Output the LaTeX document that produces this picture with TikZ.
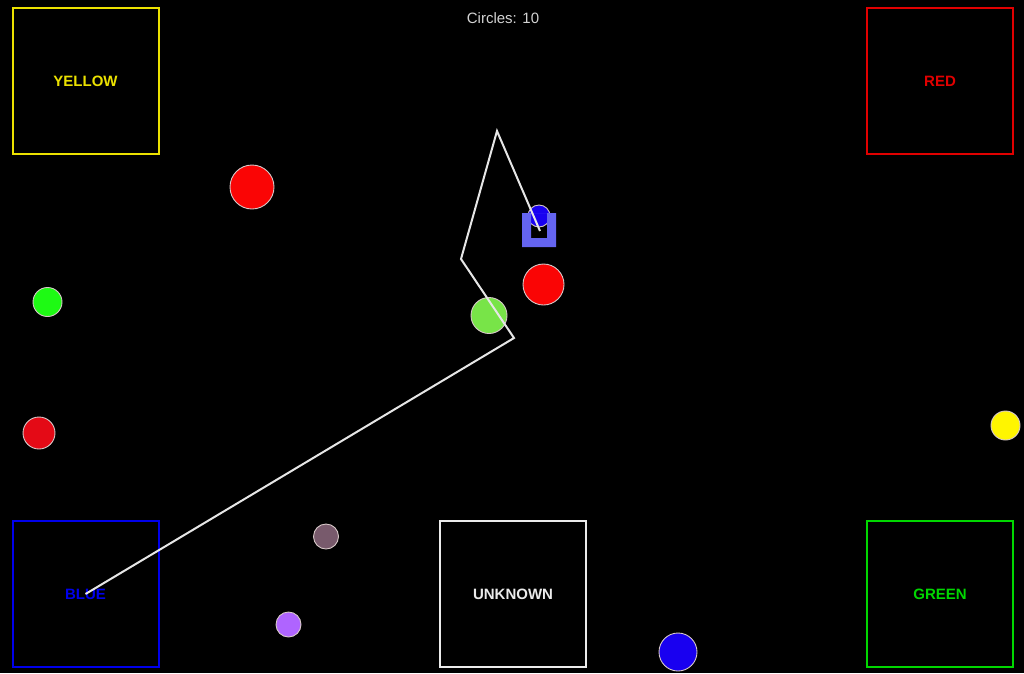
\documentclass[tikz,border=0pt]{standalone}
\usepackage{fontspec}
\setmainfont{Liberation Sans}
\usetikzlibrary{positioning}
\definecolor{zyellow}{RGB}{235,225,0}
\definecolor{zred}{RGB}{225,0,0}
\definecolor{zblue}{RGB}{0,0,235}
\definecolor{zgreen}{RGB}{0,215,0}
\definecolor{zwhite}{RGB}{235,235,235}
\definecolor{ballrim}{RGB}{215,200,200}
\definecolor{trackgrey}{RGB}{230,230,230}
\definecolor{hand}{RGB}{100,100,240}
\tikzset{zone/.style = {draw, line width=2pt, minimum size=146pt, inner sep=0pt,
                        font=\bfseries\fontsize{15}{18}\selectfont},
         ball/.style = {circle, draw=ballrim, line width=0.9pt, inner sep=0pt},
         track/.style = {draw=trackgrey, line width=2pt}}

\begin{document}
\begin{tikzpicture}[x=1pt, y=-1pt]
    \fill [black] (0, 0) rectangle (1024, 673);
    \useasboundingbox (0, 0) rectangle (1024, 673);

    \node [zone, draw=zyellow, text=zyellow] (yellow) at (85.5, 81) {\raisebox{-1.5pt}{YELLOW}};
    \node [zone, draw=zred, text=zred] (red) at (940, 81) {\raisebox{-1.5pt}{RED}};
    \node [zone, draw=zblue, text=zblue] (blue) at (85.5, 594) {\raisebox{-1.5pt}{BLUE}};
    \node [zone, draw=zwhite, text=zwhite] (unknown) at (513, 594) {\raisebox{-1.5pt}{UNKNOWN}};
    \node [zone, draw=zgreen, text=zgreen] (green) at (940, 594) {\raisebox{-1.5pt}{GREEN}};

    \node [text=zwhite!90!black, font=\fontsize{15}{18}\selectfont] (count) at (503, 18) {Circles: 10};

    \node [ball, fill={rgb,255:red,250;green,5;blue,5}, minimum size=44pt] (c1) at (252, 187) {};
    \node [ball, fill={rgb,255:red,30;green,250;blue,20}, minimum size=29pt] (c2) at (47.5, 302) {};
    \node [ball, fill={rgb,255:red,228;green,10;blue,22}, minimum size=32pt] (c3) at (39, 433) {};
    \node [ball, fill={rgb,255:red,120;green,228;blue,72}, minimum size=36pt] (c4) at (489, 315.5) {};
    \node [ball, fill={rgb,255:red,250;green,5;blue,5}, minimum size=41pt] (c5) at (543.5, 284.5) {};
    \node [ball, fill={rgb,255:red,255;green,245;blue,0}, minimum size=29pt] (c6) at (1005.5, 425.5) {};
    \node [ball, fill={rgb,255:red,120;green,90;blue,108}, minimum size=25pt] (c7) at (326, 536.5) {};
    \node [ball, fill={rgb,255:red,175;green,100;blue,255}, minimum size=25pt] (c8) at (288.5, 624.5) {};
    \node [ball, fill={rgb,255:red,25;green,0;blue,240}, minimum size=38pt] (c9) at (678, 652) {};
    \node [ball, fill={rgb,255:red,25;green,0;blue,240}, minimum size=22pt] (c10) at (539, 216) {};

    % gripper
    \fill [hand, even odd rule] (522, 213) rectangle (556, 247) (531, 213) rectangle (547, 238);

    \coordinate (w1) at (514, 338);
    \coordinate (w2) at (461, 259);
    \coordinate (w3) at (497, 131);
    \coordinate (tip) at (540, 231);
    \draw [track] (blue.center) -- (w1) -- (w2) -- (w3) -- (tip);
  \end{tikzpicture}
\end{document}
